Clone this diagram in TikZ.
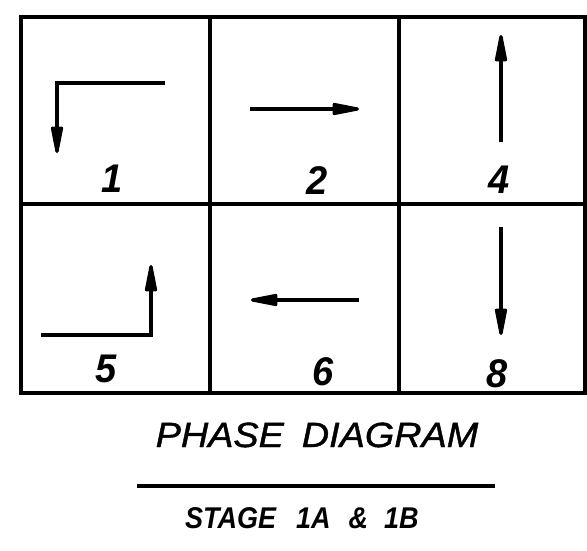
\documentclass[tikz,border=0pt]{standalone}
\usepackage{fontspec}
\setmainfont{Liberation Sans}
\newfontfamily\titlefont[FakeStretch=1.08,FakeBold=1.2]{Liberation Sans}
\newfontfamily\stagefont[FakeStretch=0.9]{Liberation Sans}
\newfontfamily\numfont[FakeStretch=0.95]{Liberation Sans}
\usetikzlibrary{arrows.meta}
\begin{document}
\begin{tikzpicture}[x=1pt,y=-1pt,
  gridline/.style={line width=3.3pt},
  flow/.style={line width=3.2pt, line join=miter, -{Triangle[length=34pt,width=12pt,round]}},
  num/.style={font=\numfont\fontsize{40}{40}\selectfont\bfseries\itshape, anchor=base, inner sep=0pt},
  titletext/.style={font=\titlefont\fontsize{35}{35}\selectfont\itshape, anchor=base, inner sep=0pt},
  subtext/.style={font=\stagefont\fontsize{30}{30}\selectfont\bfseries\itshape, anchor=base, inner sep=0pt}]
\useasboundingbox[fill=white] (0,0) rectangle (587,551);
% grid
\draw[gridline] (21,17) rectangle (585,393);
\draw[gridline] (21,204) -- (585,204);
\draw[gridline] (210,17) -- (210,393);
\draw[gridline] (399,17) -- (399,393);
% cell 1
\coordinate (a1s) at (165,83); \coordinate (a1c) at (57,83); \coordinate (a1e) at (57,153);
\draw[flow] (a1s) -- (a1c) -- (a1e);
\node[num] (n1) at (112,192) {1};
% cell 2
\coordinate (a2s) at (250,109); \coordinate (a2e) at (359,109);
\draw[flow] (a2s) -- (a2e);
\node[num] (n2) at (317,194) {2};
% cell 4
\coordinate (a4s) at (501,142); \coordinate (a4e) at (501,35);
\draw[flow] (a4s) -- (a4e);
\node[num] (n4) at (499,193) {4};
% cell 5
\coordinate (a5s) at (41,335); \coordinate (a5c) at (151,335); \coordinate (a5e) at (151,265);
\draw[flow] (a5s) -- (a5c) -- (a5e);
\node[num] (n5) at (106,382) {5};
% cell 6
\coordinate (a6s) at (359,300); \coordinate (a6e) at (251,300);
\draw[flow] (a6s) -- (a6e);
\node[num] (n6) at (323,385) {6};
% cell 8
\coordinate (a8s) at (501,227); \coordinate (a8e) at (501,335);
\draw[flow] (a8s) -- (a8e);
\node[num] (n8) at (497,387) {8};
% title
\node[titletext] (title) at (317,447) {PHASE\hspace{18pt}DIAGRAM};
\coordinate (u1) at (137,486); \coordinate (u2) at (495,486);
\draw[line width=3.5pt] (u1) -- (u2);
\node[subtext] (stage) at (302,528) {STAGE\hspace{20pt}1A\hspace{18pt}\&\hspace{16pt}1B};
\end{tikzpicture}
\end{document}
